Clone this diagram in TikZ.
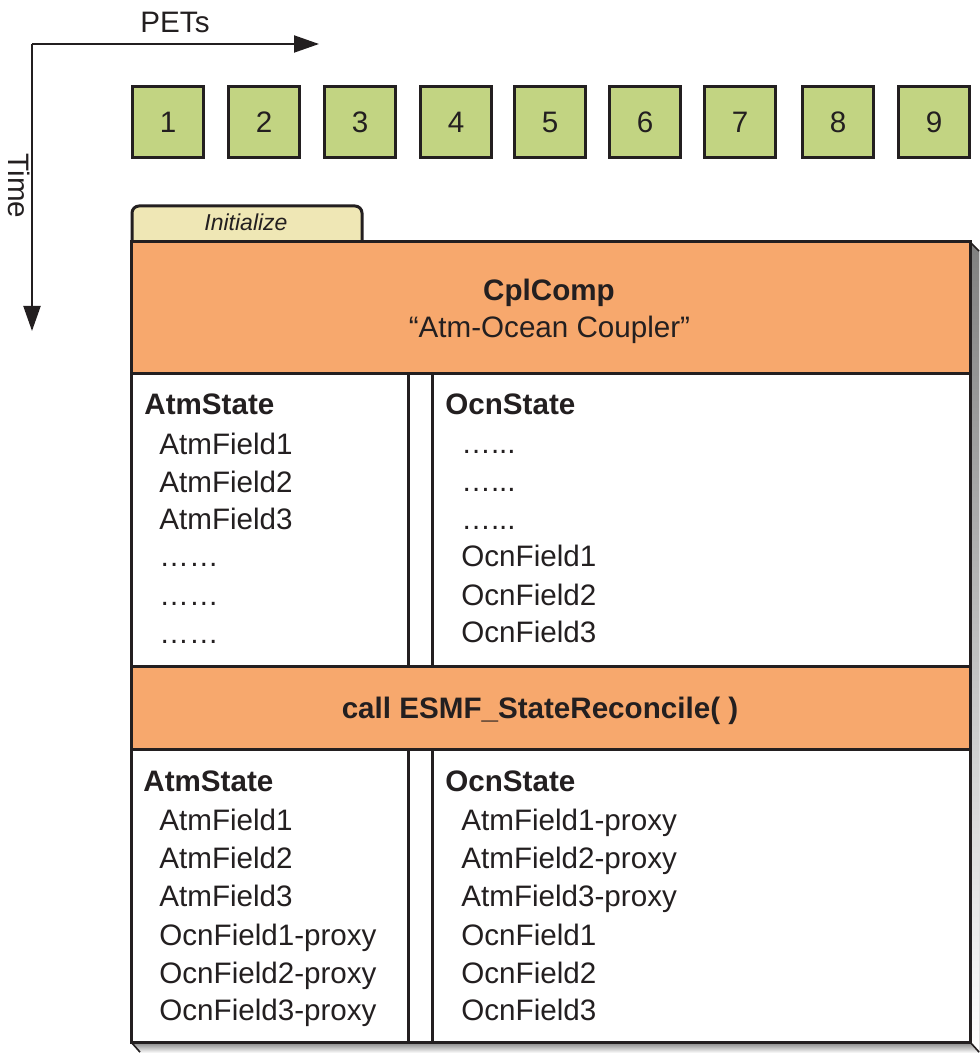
\documentclass[tikz,border=0pt]{standalone}
\usepackage{fontspec}
\setmainfont{Liberation Sans}
\usetikzlibrary{arrows.meta}
\definecolor{ink}{HTML}{231F20}
\definecolor{petgreen}{HTML}{C2D482}
\definecolor{bandfill}{HTML}{F7A86D}
\definecolor{tabfill}{HTML}{EFE7B5}
\definecolor{shade}{HTML}{C6C6C6}
\tikzset{
  pet/.style={draw=ink, line width=1.5pt, fill=petgreen, minimum size=35.5pt, inner sep=0pt,
    font=\fontsize{14.8}{17}\selectfont, text=ink},
  bandbox/.style={draw=ink, line width=1.5pt, fill=bandfill, minimum width=419.5pt, inner sep=0pt},
  item/.style={anchor=base west, inner sep=0pt, font=\fontsize{14.8}{17}\selectfont, text=ink},
  head/.style={anchor=base west, inner sep=0pt, font=\fontsize{14.8}{17}\selectfont\bfseries, text=ink},
  ctext/.style={anchor=base, inner sep=0pt, font=\fontsize{14.8}{17}\selectfont, text=ink},
  frame/.style={draw=ink, line width=1.5pt},
  axis/.style={draw=ink, line width=1pt, -{Triangle[length=12.5pt,width=8.5pt]}},
}
\begin{document}
\begin{tikzpicture}[x=0.5pt,y=-0.5pt]
\useasboundingbox (0,0) rectangle (979,1053);
% axes
\coordinate (origin) at (32,44);
\coordinate (xend) at (319,44);
\coordinate (yend) at (32,331);
\draw[axis] (origin) -- (xend);
\draw[axis] (origin) -- (yend);
\node[ctext] (pets) at (175,33) {PETs};
\node[inner sep=0pt, rotate=-90, font=\fontsize{14.8}{17}\selectfont, text=ink] (time) at (19,186) {Time};
% PET boxes
\foreach \i/\xx in {1/168,2/264,3/360,4/456,5/550,6/645,7/740,8/838,9/934}
  \node[pet] (p\i) at (\xx,122) {\i};
% shadow (extruded right and bottom faces)
\fill[shade] (970,242) -- (979,251) -- (979,1053) -- (970,1042) -- cycle;
\fill[shade] (131,1042) -- (970,1042) -- (979,1053) -- (140,1053) -- cycle;
\draw[ink, line width=0.8pt] (970,242) -- (979,251);
\draw[ink, line width=0.8pt] (970,1042) -- (979,1052);
\draw[ink, line width=0.8pt] (131,1042) -- (140,1052);
% tab
\draw[frame, fill=tabfill, rounded corners=3.5pt] (132,243) |- (362,206) -- (362,243);
\node[anchor=base, inner sep=0pt, font=\fontsize{11.5}{14}\selectfont\itshape, text=ink] (init) at (246,231) {Initialize};
% main box
\fill[white] (131,242) rectangle (970,1042);
\node[bandbox, minimum height=65.5pt] (cpl) at (550.5,307.5) {};
\node[bandbox, minimum height=41.5pt] (rec) at (550.5,707.5) {};
\node[ctext, font=\fontsize{14.8}{17}\selectfont\bfseries] (cpltitle) at (549,300) {CplComp};
\node[ctext] (cplname) at (549.5,337) {“Atm-Ocean Coupler”};
\node[ctext, font=\fontsize{14.8}{17}\selectfont\bfseries] (call) at (540,718) {call ESMF\_StateReconcile( )};
% column dividers
\draw[frame] (408,373) -- (408,666);
\draw[frame] (432,373) -- (432,666);
\draw[frame] (408,749) -- (408,1042);
\draw[frame] (432,749) -- (432,1042);
\draw[frame] (131,242) rectangle (970,1042);
% row 1 left
\node[head] (a1h) at (144,414) {AtmState};
\node[item] (a1a) at (159,454) {AtmField1};
\node[item] (a1b) at (159,492) {AtmField2};
\node[item] (a1c) at (159,529) {AtmField3};
\node[item] (a1d) at (159,566) {……};
\node[item] (a1e) at (159,605) {……};
\node[item] (a1f) at (159,643) {……};
% row 1 right
\node[head] (o1h) at (445,414) {OcnState};
\node[item] (o1a) at (461,453) {…...};
\node[item] (o1b) at (461,491) {…...};
\node[item] (o1c) at (461,529) {…...};
\node[item] (o1d) at (461,566) {OcnField1};
\node[item] (o1e) at (461,605) {OcnField2};
\node[item] (o1f) at (461,642) {OcnField3};
% row 2 left
\node[head] (a2h) at (143,791) {AtmState};
\node[item] (a2a) at (159,830) {AtmField1};
\node[item] (a2b) at (159,868) {AtmField2};
\node[item] (a2c) at (159,906) {AtmField3};
\node[item] (a2d) at (159,945) {OcnField1-proxy};
\node[item] (a2e) at (159,983) {OcnField2-proxy};
\node[item] (a2f) at (159,1020) {OcnField3-proxy};
% row 2 right
\node[head] (o2h) at (445,791) {OcnState};
\node[item] (o2a) at (461,830) {AtmField1-proxy};
\node[item] (o2b) at (461,868) {AtmField2-proxy};
\node[item] (o2c) at (461,906) {AtmField3-proxy};
\node[item] (o2d) at (461,945) {OcnField1};
\node[item] (o2e) at (461,983) {OcnField2};
\node[item] (o2f) at (461,1020) {OcnField3};
\end{tikzpicture}
\end{document}
